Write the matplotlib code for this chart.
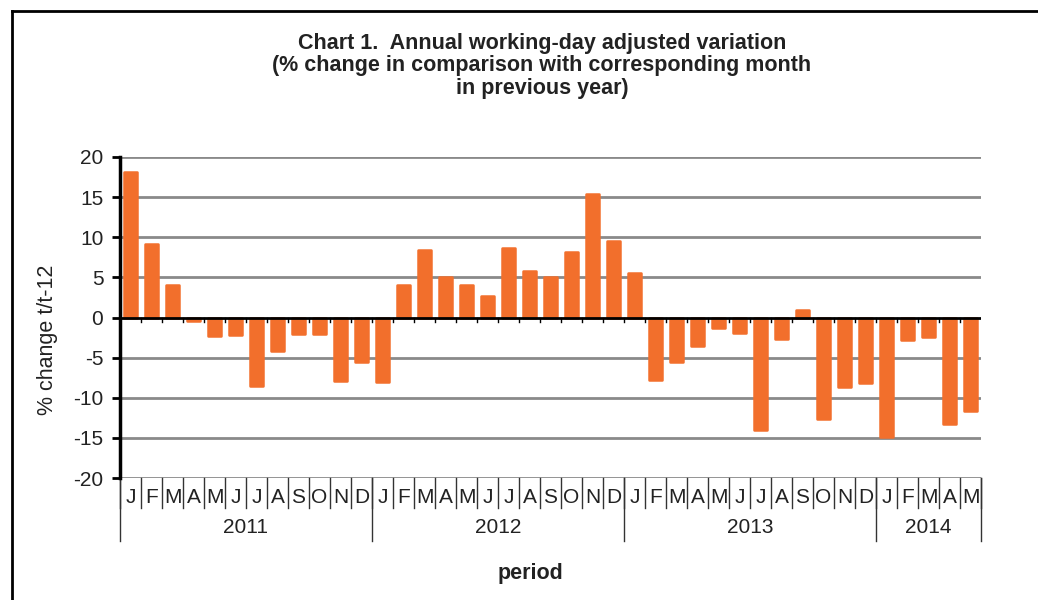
import numpy as np
import matplotlib.pyplot as plt
from matplotlib.transforms import blended_transform_factory

plt.rcParams['font.family'] = ['Liberation Sans', 'DejaVu Sans']

# Données
years = ["2011", "2012", "2013", "2014"]
months_per_year = [12, 12, 12, 5]
month_letters = ["J", "F", "M", "A", "M", "J", "J", "A", "S", "O", "N", "D"]
values = [
    18.1, 9.1, 4.0, -0.4, -2.3, -2.2, -8.5, -4.2, -2.0, -2.0, -7.9, -5.5,
    -8.0, 4.0, 8.4, 5.0, 4.0, 2.7, 8.6, 5.8, 5.1, 8.2, 15.4, 9.5,
    5.5, -7.8, -5.6, -3.5, -1.3, -1.9, -14.0, -2.7, 0.9, -12.6, -8.7, -8.2,
    -14.9, -2.8, -2.4, -13.3, -11.7,
]
yticks = [-20, -15, -10, -5, 0, 5, 10, 15, 20]

orange = "#F26F2C"
txt = "#222222"
W, H = 1038, 600

fig = plt.figure(figsize=(W / 100, H / 100), dpi=100)
ax = fig.add_axes([120 / W, (H - 478) / H, 861 / W, 321 / H])

x = np.arange(len(values))
ax.bar(x, values, width=0.66, color=orange, edgecolor=orange,
       linewidth=1.8, joinstyle="round", zorder=3)

ax.set_xlim(-0.5, len(values) - 0.5)
ax.set_ylim(-20, 20)
ax.set_yticks(yticks)
ax.set_yticklabels([str(t) for t in yticks], fontsize=15, color=txt)
ax.tick_params(axis="y", direction="out", length=6, width=2, color="black", pad=6)
ax.set_xticks([])

for t in yticks:
    if t != 0:
        ax.axhline(t, color="#8a8a8a", lw=2, zorder=1)
ax.axhline(0, color="black", lw=2, zorder=4)

for s in ["top", "right", "bottom"]:
    ax.spines[s].set_visible(False)
ax.spines["left"].set_linewidth(2.5)
ax.spines["left"].set_zorder(5)

# petits traits sur la ligne zéro
for b in np.arange(0.5, len(values) - 1, 1.0):
    ax.plot([b, b], [0, -0.6], color="black", lw=1, zorder=4)

ax.set_ylabel("% change t/t-12", fontsize=15.5, color=txt)
ax.yaxis.set_label_coords(-0.072, 0.43)

# axe des catégories en deux niveaux
tr = blended_transform_factory(ax.transData, ax.transAxes)
month_bottom = -0.095
year_bottom = -0.195
labels = []
for n in months_per_year:
    labels += month_letters[:n]
for i, lab in enumerate(labels):
    ax.text(i, -0.06, lab, transform=tr, ha="center", va="center",
            fontsize=15, color=txt)
for b in np.arange(-0.5, len(values), 1.0):
    ax.plot([b, b], [0, month_bottom], transform=tr, color="#333333",
            lw=1, clip_on=False)

start = 0
bounds = [-0.5]
for yr, n in zip(years, months_per_year):
    ax.text(start + (n - 1) / 2, -0.155, yr, transform=tr, ha="center",
            va="center", fontsize=15, color=txt)
    start += n
    bounds.append(start - 0.5)
for b in bounds:
    ax.plot([b, b], [0, year_bottom], transform=tr, color="#333333",
            lw=1, clip_on=False)

fig.text(530 / W, 1 - 573 / H, "period", ha="center", va="center",
         fontsize=15.5, fontweight="bold", color=txt)

fig.text(542 / W, 1 - 66 / H,
         "Chart 1.  Annual working-day adjusted variation\n"
         "(% change in comparison with corresponding month\n"
         "in previous year)",
         ha="center", va="center", fontsize=15.5, fontweight="bold",
         color=txt, linespacing=1.12)

# cadre
fig.add_artist(plt.Line2D([12 / W, 12 / W], [0, 1 - 11 / H], color="black",
                          lw=2, transform=fig.transFigure))
fig.add_artist(plt.Line2D([12 / W, 1], [1 - 11 / H, 1 - 11 / H], color="black",
                          lw=2, transform=fig.transFigure))

fig.savefig("out.png", dpi=100)
